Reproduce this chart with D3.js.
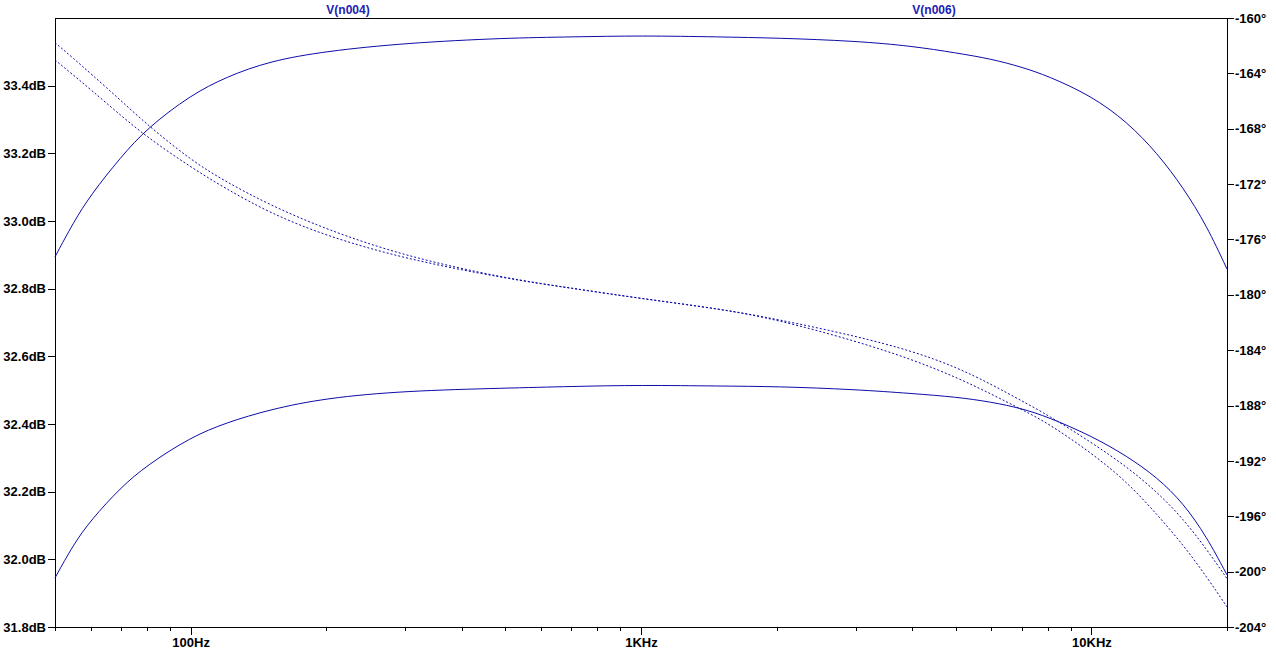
<!DOCTYPE html>
<html>
<head>
<meta charset="utf-8">
<script src="https://d3js.org/d3.v7.min.js"></script>
<style>
  body { margin: 0; background: #ffffff; }
  text { font-family: "Liberation Sans", Arial, sans-serif; font-weight: bold; font-size: 13px; }
</style>
</head>
<body>
<div id="plot"></div>
<script>
// Frequency points (Hz)
var freqs = [50, 55, 60, 70, 80, 100, 120, 150, 200, 300, 500, 700, 1000, 1500, 2000,
  3000, 4000, 5000, 6000, 7000, 8000, 10000, 12000, 14000, 16000, 18000, 20000];

// Magnitude traces (dB, left axis)
var magA = [32.894, 32.997, 33.077, 33.189, 33.274, 33.372, 33.426, 33.473, 33.502, 33.526, 33.541,
  33.544, 33.548, 33.544, 33.541, 33.532, 33.517, 33.497, 33.479, 33.455, 33.429,
  33.370, 33.293, 33.201, 33.098, 32.988, 32.858];
var magB = [31.945, 32.045, 32.115, 32.213, 32.278, 32.361, 32.404, 32.443, 32.477, 32.498, 32.506,
  32.511, 32.515, 32.512, 32.511, 32.502, 32.490, 32.480, 32.465, 32.446, 32.421,
  32.365, 32.305, 32.242, 32.166, 32.068, 31.954];

// Phase traces (degrees, right axis)
var phaseA = [-161.78, -162.93, -164.01, -165.96, -167.69, -170.26, -171.85, -173.51, -175.28, -177.22, -178.81,
  -179.51, -180.27, -181.02, -181.75, -182.98, -184.06, -185.21, -186.47, -187.66, -188.68,
  -190.66, -192.44, -194.25, -196.20, -198.36, -200.50];
var phaseB = [-163.03, -164.14, -165.17, -167.04, -168.60, -170.77, -172.35, -174.09, -175.75, -177.41, -178.82,
  -179.53, -180.27, -181.02, -181.78, -183.34, -184.67, -185.94, -187.17, -188.29, -189.26,
  -191.42, -193.52, -195.88, -198.08, -200.34, -202.55];

// Tick values and labels
var dbTicks = [31.8, 32.0, 32.2, 32.4, 32.6, 32.8, 33.0, 33.2, 33.4];
var degTicks = [-204, -200, -196, -192, -188, -184, -180, -176, -172, -168, -164, -160];
var majorFreqs = [100, 1000, 10000];
var majorLabels = ["100Hz", "1KHz", "10KHz"];
var traceNames = ["V(n004)", "V(n006)"];

// Canvas and plot box
var width = 1276;
var height = 653;
var plotLeft = 55, plotRight = 1227, plotTop = 18, plotBottom = 627;

var lineColor = "#0c0ca8";
var labelColor = "#2020b4";

var svg = d3.select("#plot")
  .append("svg")
  .attr("width", width)
  .attr("height", height);

// Scales
var xScale = d3.scaleLog().domain([50, 20000]).range([plotLeft, plotRight]);
var yLeft = d3.scaleLinear().domain([31.8, 33.6]).range([plotBottom, plotTop]);
var yRight = d3.scaleLinear().domain([-204, -160]).range([plotBottom, plotTop]);

// Minor frequency ticks: every 1..9 step per decade inside the domain
var minorFreqs = [];
[10, 100, 1000, 10000].forEach(function(dec) {
  for (var k = 1; k < 10; k++) {
    var f = dec * k;
    if (f >= 50 && f <= 20000 && majorFreqs.indexOf(f) < 0) minorFreqs.push(f);
  }
});

// Bottom axis, minor ticks
svg.append("g")
  .attr("transform", "translate(0," + plotBottom + ")")
  .call(d3.axisBottom(xScale).tickValues(minorFreqs).tickSize(4).tickFormat(""))
  .call(function(g) { g.select(".domain").remove(); });

// Bottom axis, major ticks with labels
svg.append("g")
  .attr("transform", "translate(0," + plotBottom + ")")
  .call(d3.axisBottom(xScale).tickValues(majorFreqs).tickSize(8).tickPadding(3)
    .tickFormat(function(d, i) { return majorLabels[i]; }))
  .call(function(g) { g.select(".domain").remove(); });

// Left axis (dB)
svg.append("g")
  .attr("transform", "translate(" + plotLeft + ",0)")
  .call(d3.axisLeft(yLeft).tickValues(dbTicks).tickSize(7).tickPadding(2)
    .tickFormat(function(d) { return d3.format(".1f")(d) + "dB"; }))
  .call(function(g) { g.select(".domain").remove(); });

// Right axis (degrees)
svg.append("g")
  .attr("transform", "translate(" + plotRight + ",0)")
  .call(d3.axisRight(yRight).tickValues(degTicks).tickSize(7).tickPadding(1)
    .tickFormat(function(d) { return d + "\u00b0"; }))
  .call(function(g) { g.select(".domain").remove(); });

// Axis styling
svg.selectAll(".tick line")
  .attr("stroke", "#000")
  .attr("shape-rendering", "crispEdges");
svg.selectAll(".tick text")
  .attr("fill", "#000")
  .style("font-size", "13px")
  .style("font-family", "\"Liberation Sans\", Arial, sans-serif")
  .style("font-weight", "bold");

// Plot frame
svg.append("rect")
  .attr("x", plotLeft)
  .attr("y", plotTop)
  .attr("width", plotRight - plotLeft)
  .attr("height", plotBottom - plotTop)
  .attr("fill", "none")
  .attr("stroke", "#000")
  .attr("shape-rendering", "crispEdges");

// Trace names above the plot
svg.selectAll(".traceName")
  .data(traceNames)
  .enter()
  .append("text")
  .attr("class", "traceName")
  .attr("x", function(d, i) { return plotLeft + (plotRight - plotLeft) * (i === 0 ? 0.25 : 0.75); })
  .attr("y", 14)
  .attr("text-anchor", "middle")
  .attr("fill", labelColor)
  .style("font-size", "12px")
  .text(function(d) { return d; });

// Line generators (B-spline smooths out small reading errors)
function magLine() {
  return d3.line()
    .x(function(d) { return xScale(d[0]); })
    .y(function(d) { return yLeft(d[1]); })
    .curve(d3.curveBasis);
}
function phaseLine() {
  return d3.line()
    .x(function(d) { return xScale(d[0]); })
    .y(function(d) { return yRight(d[1]); })
    .curve(d3.curveBasis);
}

var traces = [
  { values: magA, gen: magLine(), dash: null },
  { values: magB, gen: magLine(), dash: null },
  { values: phaseA, gen: phaseLine(), dash: "2,2" },
  { values: phaseB, gen: phaseLine(), dash: "2,2" }
];

traces.forEach(function(t) {
  var pts = freqs.map(function(f, i) { return [f, t.values[i]]; });
  svg.append("path")
    .datum(pts)
    .attr("d", t.gen)
    .attr("fill", "none")
    .attr("stroke", lineColor)
    .attr("stroke-width", 1)
    .attr("stroke-dasharray", t.dash);
});
</script>
</body>
</html>
